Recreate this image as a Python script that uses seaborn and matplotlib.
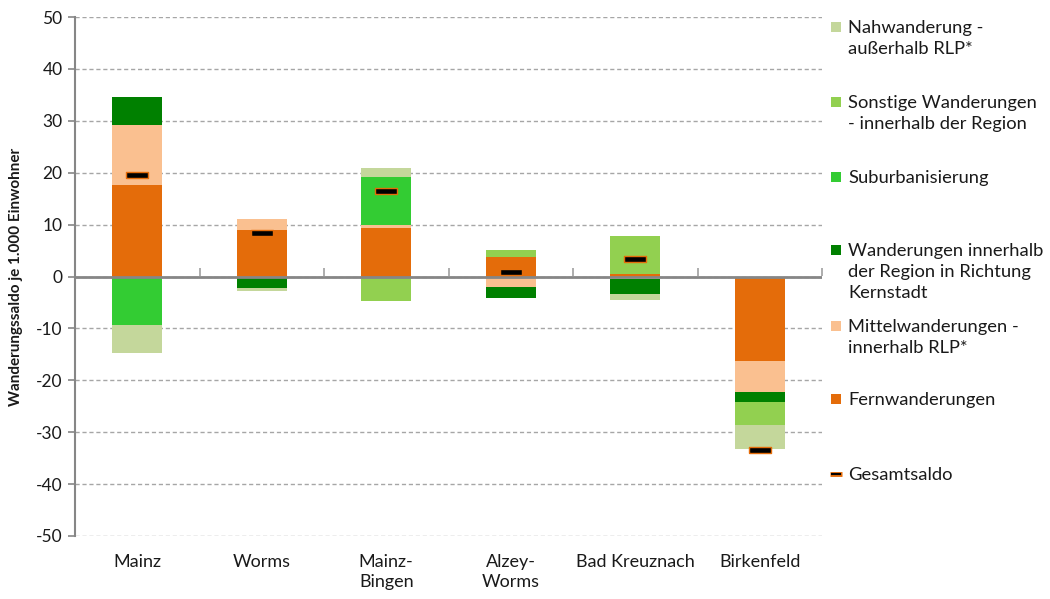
import numpy as np
import pandas as pd
import matplotlib
matplotlib.use("Agg")
import matplotlib.pyplot as plt
from matplotlib.patches import Rectangle
from matplotlib.lines import Line2D
import seaborn as sns

categories = ["Mainz", "Worms", "Mainz-\nBingen", "Alzey-\nWorms", "Bad Kreuznach", "Birkenfeld"]

fern = [17.7, 8.9, 9.3, 3.85, 0.5, -16.2]
mittel = [11.4, 2.1, 0.7, -2.0, -0.45, -6.0]
kernstadt = [5.4, -2.2, 0.0, -2.2, -2.85, -2.0]
suburb = [-9.4, 0.0, 9.1, 0.0, 0.0, 0.0]
sonstige = [0.0, 0.0, -4.7, 1.35, 7.3, -4.4]
nah = [-5.4, -0.6, 1.8, 0.0, -1.3, -4.6]
gesamt = [19.6, 8.4, 16.5, 0.8, 3.4, -33.4]

series_names = [
    "Fernwanderungen",
    "Mittelwanderungen -\ninnerhalb RLP*",
    "Wanderungen innerhalb\nder Region in Richtung\nKernstadt",
    "Suburbanisierung",
    "Sonstige Wanderungen\n- innerhalb der Region",
    "Nahwanderung -\naußerhalb RLP*",
]
series_values = [fern, mittel, kernstadt, suburb, sonstige, nah]
series_colors = ["#E46C0A", "#FAC090", "#008000", "#33CC33", "#92D050", "#C4D79B"]

sns.set_theme(style="white")
plt.rcParams["font.family"] = ["Lato", "DejaVu Sans"]
plt.rcParams["axes.unicode_minus"] = False
text_color = "#1a1a1a"

W, H = 1050, 599
fig = plt.figure(figsize=(W / 100, H / 100), dpi=100)
ax = fig.add_axes([75 / W, 1 - 536 / H, (822 - 75) / W, (536 - 17) / H])

x = np.arange(len(categories))
pos_base = np.zeros(len(categories))
neg_base = np.zeros(len(categories))
for vals, col in zip(series_values, series_colors):
    v = np.array(vals, dtype=float)
    bottoms = np.where(v >= 0, pos_base, neg_base)
    ax.bar(x, v, bottom=bottoms, width=0.4, color=col, linewidth=0, zorder=3)
    pos_base = pos_base + np.where(v > 0, v, 0)
    neg_base = neg_base + np.where(v < 0, v, 0)

# Gesamtsaldo markers
rect_marker = [(-1, -0.24), (1, -0.24), (1, 0.24), (-1, 0.24), (-1, -0.24)]
gdf = pd.DataFrame({"x": x, "y": gesamt})
sns.scatterplot(data=gdf, x="x", y="y", ax=ax, marker=rect_marker, s=260,
                color="black", edgecolor="#E46C0A", linewidth=1.0, zorder=5, legend=False)

ax.set_xlim(-0.5, len(categories) - 0.5)
ax.set_ylim(-50, 50)
ax.set_yticks(np.arange(-50, 51, 10))
ax.yaxis.grid(True, linestyle=(0, (3, 2)), color="#A6A6A6", linewidth=1.0, zorder=0)
ax.xaxis.grid(False)
for s in ["top", "right", "bottom"]:
    ax.spines[s].set_visible(False)
ax.spines["left"].set_color("#868686")
ax.spines["left"].set_linewidth(1.5)
ax.spines["left"].set_zorder(4)

# zero line
ax.axhline(0, color="#868686", linewidth=2.0, zorder=4)

ax.set_xticks(x)
ax.set_xticklabels(categories, fontsize=13, color=text_color, linespacing=1.3)
ax.tick_params(axis="x", length=0, pad=13)
ax.tick_params(axis="y", left=True, length=5, width=1.2, color="#868686",
               labelsize=12.5, labelcolor=text_color, pad=4)
ax.set_xlabel("")
ax.set_ylabel("Wanderungssaldo je 1.000 Einwohner", fontsize=11, fontweight="bold",
              color=text_color, labelpad=9)

# boundary ticks on the zero axis
sec = ax.secondary_xaxis(0.5)
sec.set_xticks(np.arange(-0.5, len(categories), 1.0))
sec.set_xticklabels([])
sec.tick_params(axis="x", direction="out", length=6, width=1.2, color="#A0A0A0")
for s in ["top", "left", "right", "bottom"]:
    sec.spines[s].set_visible(False)

# legend (Excel style: patch aligned with first text line)
legend_names = series_names[::-1]
legend_colors = series_colors[::-1]
first_line_y = [27, 102, 177, 250, 326, 399]
for name, col, py in zip(legend_names, legend_colors, first_line_y):
    fig.patches.append(Rectangle(((831) / W, 1 - (py + 5) / H), 10 / W, 10 / H,
                                 transform=fig.transFigure, color=col, linewidth=0))
    fig.text(848 / W, 1 - (py - 7) / H, name, fontsize=13.2, color=text_color,
             va="top", ha="left", linespacing=1.38)
py = 474
fig.lines.append(Line2D([830 / W, 842 / W], [1 - py / H, 1 - py / H], transform=fig.transFigure,
                        color="#E46C0A", linewidth=3.5, solid_capstyle="butt"))
fig.lines.append(Line2D([831 / W, 841 / W], [1 - py / H, 1 - py / H], transform=fig.transFigure,
                        color="black", linewidth=1.5, solid_capstyle="butt"))
fig.text(848 / W, 1 - (py - 7) / H, "Gesamtsaldo", fontsize=13.2, color=text_color,
         va="top", ha="left")

fig.savefig("out.png", dpi=100, facecolor="white")
